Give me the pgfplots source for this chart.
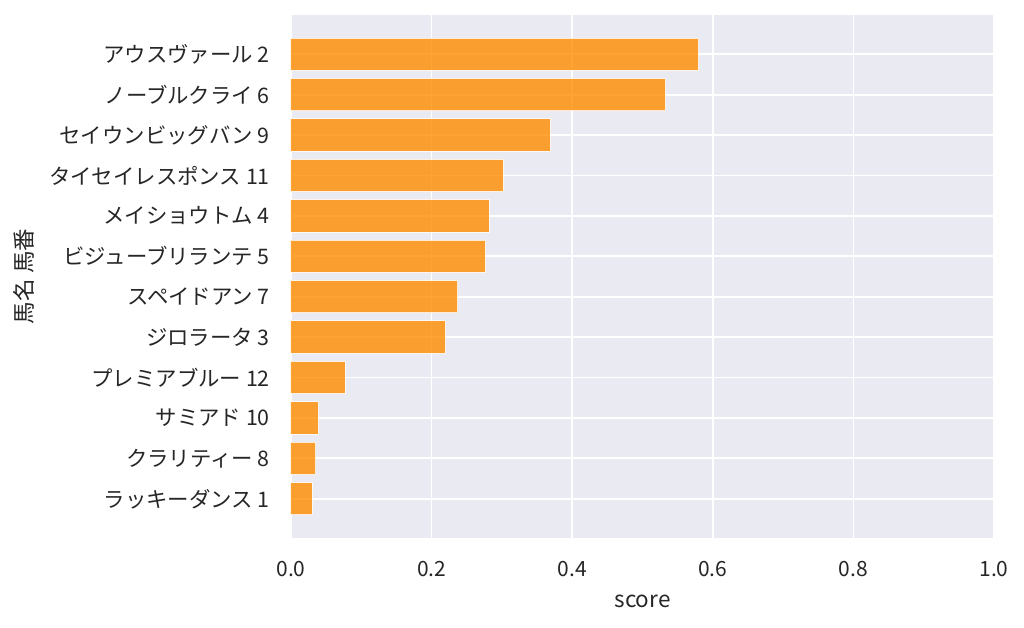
\documentclass[border=0pt]{standalone}
\usepackage{fontspec}
\setmainfont{Noto Sans CJK JP}
\usepackage{pgfplots}
\pgfplotsset{compat=1.18}
\definecolor{bgc}{RGB}{234,234,242}
\definecolor{barc}{RGB}{255,140,0}
\definecolor{txt}{RGB}{38,38,38}
\begin{document}
\begin{tikzpicture}
\begin{axis}[
  at={(0pt,0pt)}, anchor=south west,
  scale only axis,
  width=703pt, height=523pt,
  xmin=0, xmax=1,
  ymin=-0.97, ymax=11.97,
  y dir=reverse,
  axis background/.style={fill=bgc},
  axis line style={draw=none},
  major tick length=0pt,
  xtick={0,0.2,0.4,0.6,0.8,1.0},
  ytick={0,1,2,3,4,5,6,7,8,9,10,11},
  yticklabels={アウスヴァール 2,ノーブルクライ 6,セイウンビッグバン 9,タイセイレスポンス 11,メイショウトム 4,ビジューブリランテ 5,スペイドアン 7,ジロラータ 3,プレミアブルー 12,サミアド 10,クラリティー 8,ラッキーダンス 1},
  xticklabel style={/pgf/number format/fixed,/pgf/number format/precision=1,/pgf/number format/fixed zerofill,/pgf/number format/assume math mode=true, font=\fontsize{21}{24}\selectfont, text=txt, anchor=north, inner sep=0pt, yshift=-23pt},
  yticklabel style={font=\fontsize{21.4}{24}\selectfont, text=txt, anchor=east, inner sep=0pt, xshift=-21pt},
  grid=major,
  major grid style={white, line width=1.8pt},
  xlabel={score},
  ylabel={馬名 馬番},
  every axis x label/.style={at={(axis description cs:0.5,0)}, anchor=base, yshift=-69pt, font=\fontsize{22.5}{26}\selectfont, text=txt},
  every axis y label/.style={at={(axis description cs:0,0.5)}, xshift=-267pt, anchor=center, rotate=90, font=\fontsize{22.5}{26}\selectfont, text=txt},
]
\addplot[xbar, bar width=0.8, bar shift=0pt, fill=barc, draw=white, line width=1pt, opacity=0.8] coordinates {
  (0.580,0) (0.533,1) (0.369,2) (0.302,3) (0.282,4) (0.277,5)
  (0.2375,6) (0.220,7) (0.077,8) (0.039,9) (0.0355,10) (0.030,11)
};
\end{axis}
\pgfresetboundingbox
\path[use as bounding box] (-291pt,-89pt) rectangle (733pt,538pt);
\end{tikzpicture}
\end{document}
